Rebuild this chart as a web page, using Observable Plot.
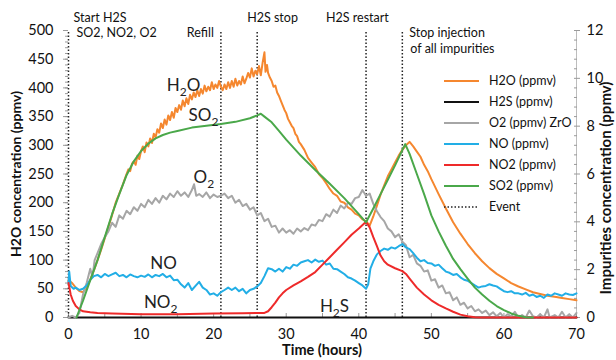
<!DOCTYPE html>
<html><head><meta charset="utf-8">
<script src="https://cdn.jsdelivr.net/npm/d3@7"></script>
<script src="https://cdn.jsdelivr.net/npm/@observablehq/plot@0.6"></script>
<style>body{margin:0;background:#fff;} #chart{width:616px;height:360px;}</style>
</head><body><div id="chart"></div>
<script>
// ---- data: [time (h), value] ----
// H2O on left axis (ppmv)
const h2o = [[0,65],[0.5,60],[1,52],[1.5,46],[2,44],[2.5,52],[3,66],[3.5,82],[4,100],[4.5,118],[5,138],[5.5,158],[6,178],[6.5,200],[7,216],[7.5,232],[8,250],[8.25,258],[8.5,255],[8.75,268],[9,272],[9.25,266],[9.5,282],[9.75,276],[10,290],[10.25,298],[10.5,288],[10.75,305],[11,298],[11.25,312],[11.5,304],[11.75,320],[12,314],[12.25,328],[12.5,322],[12.75,338],[13,330],[13.25,345],[13.5,336],[13.75,352],[14,344],[14.25,358],[14.5,348],[14.75,365],[15,358],[15.25,370],[15.5,362],[15.75,378],[16,368],[16.25,382],[16.5,372],[16.75,388],[17,380],[17.25,392],[17.5,384],[17.75,396],[18,386],[18.25,398],[18.5,390],[18.75,404],[19,394],[19.25,402],[19.5,396],[19.75,410],[20,398],[20.25,406],[20.5,400],[20.75,412],[21,402],[21.25,396],[21.5,406],[21.75,398],[22,410],[22.25,400],[22.5,412],[22.75,402],[23,416],[23.25,404],[23.5,412],[23.75,406],[24,420],[24.25,408],[24.5,416],[24.75,426],[25,418],[25.25,434],[25.5,420],[25.75,430],[26,424],[26.25,438],[26.5,422],[26.75,444],[27,462],[27.15,428],[27.35,440],[27.5,426],[27.75,418],[28,412],[28.25,402],[28.5,404],[28.75,392],[29,386],[29.25,378],[29.5,370],[29.75,362],[30,356],[30.25,346],[30.5,340],[30.75,334],[31,330],[31.25,320],[31.5,316],[31.75,306],[32,302],[32.5,292],[33,278],[33.5,270],[34,262],[34.5,250],[35,243],[35.5,234],[36,224],[36.5,216],[37,212],[37.5,202],[38,200],[38.5,192],[39,188],[39.5,181],[40,178],[40.5,171],[41,168],[41.5,160],[42,176],[42.5,195],[43,214],[43.5,230],[44,246],[44.5,258],[45,270],[45.5,282],[46,292],[46.5,300],[47,306],[47.5,298],[48,289],[48.5,280],[49,266],[49.5,255],[50,241],[51,215],[52,190],[53,166],[54,146],[55,128],[56,112],[57,98],[58,86],[59,76],[60,68],[61,60],[62,54],[63,49],[64,44],[65,41],[66,38],[67,36],[68,34],[69,32],[70,30]];
// impurities on right axis (ppmv)
const h2s = [[0,0],[70,0]];
const o2 = [[0,0],[0.5,0.07],[1,0],[1.5,0.19],[2,0.96],[2.5,1.44],[3,2.04],[3.3,1.68],[3.6,2.4],[4,2.69],[4.5,3.07],[5,3.36],[5.5,3.6],[6,3.96],[6.5,3.79],[7,4.27],[7.5,4.13],[8,4.46],[8.5,4.32],[9,4.61],[9.5,4.46],[10,4.75],[10.5,4.61],[11,4.92],[11.5,4.75],[12,4.99],[12.5,4.8],[13,5.09],[13.5,4.94],[14,5.18],[14.5,5.04],[15,5.28],[15.5,5.09],[16,5.23],[16.5,5.04],[17,5.33],[17.3,5.57],[17.6,5.09],[18,5.16],[18.5,5.04],[19,5.23],[19.5,4.99],[20,5.14],[20.5,5.04],[21,5.09],[21.5,5.18],[22,4.99],[22.5,5.09],[23,4.8],[23.5,4.92],[24,4.66],[24.5,4.75],[25,4.51],[25.5,4.61],[26,4.27],[26.5,4.37],[27,4.03],[27.5,4.13],[28,3.79],[28.5,3.84],[29,3.55],[29.5,3.72],[30,3.55],[30.5,3.65],[31,3.5],[31.5,3.72],[32,3.6],[32.5,3.74],[33,3.65],[33.5,3.89],[34,3.84],[34.5,4.08],[35,4.03],[35.5,4.32],[36,4.22],[36.5,4.51],[37,4.37],[37.5,4.68],[38,4.56],[38.5,4.8],[39,4.75],[39.5,4.99],[40,5.04],[40.5,5.33],[41,5.09],[41.5,5.18],[42,4.75],[42.5,4.44],[43,4.2],[43.5,4.03],[44,3.72],[44.5,3.6],[45,3.36],[45.5,3.48],[46,3.17],[46.5,3.02],[47,2.52],[47.5,2.62],[48,2.26],[48.5,2.16],[49,1.92],[49.5,1.97],[50,1.54],[50.5,1.6],[51,1.25],[51.5,1.34],[52,1.01],[52.5,1.06],[53,0.72],[53.5,0.84],[54,0.53],[54.5,0.62],[55,0.38],[55.5,0.48],[56,0.26],[56.5,0.34],[57,0.19],[57.5,0.29],[58,0.1],[58.5,0.22],[59,0.05],[59.5,0.19],[60,0],[60.5,0.14],[61,0.05],[61.5,0.24],[62,0],[62.5,0.1],[63,0],[63.5,0.29],[64,0.05],[64.5,0],[65,0.14],[65.5,0],[66,0.34],[66.3,0],[67,0.1],[67.5,0],[68,0.24],[68.5,0],[69,0.14],[69.5,0],[70,0.19]];
const no = [[0,1.44],[0.1,1.92],[0.3,1.32],[0.7,1.2],[1,1.25],[1.5,1.15],[2,1.2],[2.5,1.34],[3,1.58],[3.5,1.73],[4,1.78],[4.5,1.68],[5,1.82],[5.5,1.73],[6,1.8],[6.5,1.87],[7,1.73],[7.5,1.78],[8,1.68],[8.5,1.8],[9,1.73],[9.5,1.68],[10,1.75],[10.5,1.7],[11,1.8],[11.5,1.68],[12,1.78],[12.5,1.73],[13,1.82],[13.5,1.68],[14,1.75],[14.5,1.56],[15,1.58],[15.5,1.39],[16,1.25],[16.5,1.44],[17,1.15],[17.5,1.32],[18,1.49],[18.5,1.25],[19,1.15],[19.5,0.96],[20,1.01],[20.5,0.91],[21,1.06],[21.5,1.15],[22,1.25],[22.5,1.15],[23,1.25],[23.5,1.1],[24,1.2],[24.5,1.01],[25,1.15],[25.5,1.2],[26,1.3],[26.5,1.44],[27,1.73],[27.5,2.06],[28,2.02],[28.5,1.92],[29,2.04],[29.5,1.92],[30,2.11],[30.5,2.04],[31,2.21],[31.5,2.16],[32,2.3],[32.5,2.35],[33,2.4],[33.5,2.3],[34,2.42],[34.5,2.33],[35,2.38],[35.5,2.21],[36,2.26],[36.5,2.04],[37,2.02],[37.5,1.92],[38,1.82],[38.5,1.68],[39,1.63],[39.5,1.54],[40,1.44],[40.5,1.34],[41,1.2],[41.3,1.39],[41.6,2.04],[42,2.35],[42.5,2.64],[43,2.78],[43.5,2.88],[44,2.83],[44.5,2.93],[45,2.88],[45.5,2.98],[46,3.07],[46.5,2.93],[47,2.86],[47.5,2.69],[48,2.5],[48.5,2.35],[49,2.4],[49.5,2.28],[50,2.26],[50.5,2.16],[51,2.21],[51.5,2.06],[52,1.92],[52.5,1.87],[53,1.78],[53.5,1.82],[54,1.68],[54.5,1.58],[55,1.54],[55.5,1.44],[56,1.34],[56.5,1.25],[57,1.3],[57.5,1.32],[58,1.39],[58.5,1.34],[59,1.3],[59.5,1.2],[60,1.1],[60.5,1.06],[61,1.1],[61.5,1.01],[62,1.01],[62.5,0.96],[63,1.03],[63.5,0.91],[64,0.96],[64.5,0.86],[65,0.91],[65.5,0.82],[66,0.96],[66.5,0.91],[67,1.01],[67.5,0.96],[68,0.91],[68.5,1.01],[69,0.96],[69.5,0.94],[70,1.01]];
const no2 = [[0,1.44],[0.3,0.96],[0.6,0.7],[1,0.48],[1.5,0.34],[2,0.26],[3,0.22],[4,0.19],[6,0.17],[10,0.14],[15,0.14],[20,0.17],[24,0.18],[26,0.19],[27,0.19],[27.5,0.26],[28,0.43],[28.5,0.62],[29,0.84],[29.5,1.01],[30,1.15],[31,1.34],[32,1.51],[33,1.7],[34,1.9],[35,2.21],[36,2.52],[37,2.83],[38,3.14],[39,3.46],[40,3.72],[41,4.0],[41.5,3.77],[42,3.36],[42.5,2.98],[43,2.59],[43.5,2.35],[44,2.21],[45,2.06],[46,1.94],[46.5,1.82],[47,1.63],[47.5,1.44],[48,1.25],[49,0.96],[50,0.72],[51,0.53],[52,0.38],[53,0.24],[54,0.12],[55,0.05],[56,0.01],[57,0],[70,0]];
const so2 = [[1.1,0],[2,0.7],[3,1.56],[4,2.4],[5,3.36],[6,4.32],[7,5.16],[8,5.95],[9,6.53],[10,6.96],[11,7.27],[12,7.49],[13,7.63],[14,7.73],[15,7.8],[17,7.94],[19,8.02],[21,8.09],[23,8.18],[25,8.33],[26,8.45],[26.5,8.52],[27,8.4],[28,8.16],[29,7.8],[30,7.44],[32,6.77],[34,6.17],[36,5.59],[38,4.99],[40,4.32],[41,3.98],[42,4.56],[43,5.16],[44,5.76],[45,6.36],[46,7.0],[46.4,7.25],[47,6.84],[48,6.0],[49,5.16],[50,4.27],[51,3.6],[52,3.0],[53,2.45],[54,2.02],[55,1.63],[56,1.25],[57,0.96],[58,0.7],[59,0.48],[60,0.31],[61,0.17],[62,0.07],[63,0.01],[64,0]];

const seriesNames = ["H2O (ppmv)","H2S (ppmv)","O2 (ppmv) ZrO","NO (ppmv)","NO2 (ppmv)","SO2 (ppmv)"];
const seriesColors = ["#f5872f","#111111","#a6a6a6","#22aee6","#ee2a2a","#4aa84a"];
const seriesData = [h2o, h2s, o2, no, no2, so2];
const seriesAxis = ["left","right","right","right","right","right"];

const eventTimes = [0, 21, 26, 41, 46];
const eventNotes = ["Start H2S","SO2, NO2, O2","Refill","H2S stop","H2S restart","Stop injection","of all impurities"];
const curveLabels = ["H₂O","SO₂","O₂","NO","NO₂","H₂S"];
const axisTitles = ["H2O concentration (ppmv)", "Impurities concentration (ppmv)", "Time (hours)"];

const leftTicks = d3.range(0, 501, 50);
const rightTicks = d3.range(0, 13, 2);
const xTicks = d3.range(0, 71, 10);

// ---- drawing ----
const K = 500 / 12; // right-axis ppmv -> left-axis units
const font = "Lato, 'Open Sans', sans-serif";

const lineMarks = seriesData.map((data, i) => Plot.line(data, {
  x: d => d[0],
  y: d => seriesAxis[i] === "right" ? d[1] * K : d[1],
  stroke: seriesColors[i], strokeWidth: 2, strokeLinejoin: "round"
}));

// label anchors (time, left-axis units)
const labelPos = [[15.85,404],[18.6,352],[18.65,244],[13.1,94.5],[12.7,26.5],[36.65,19]];
const labelMarks = curveLabels.map((txt, i) => Plot.text([txt], {
  x: () => labelPos[i][0], y: () => labelPos[i][1], text: d => d,
  fontSize: 17, fill: "#222", textAnchor: "middle", lineAnchor: "middle"
}));

const noteLayout = [
  {t: 0, dx: 5, dy: -13, anchor: "start"},
  {t: 0, dx: 8, dy: 2, anchor: "start"},
  {t: 21, dx: -7, dy: 2, anchor: "end"},
  {t: 26, dx: -10, dy: -13, anchor: "start"},
  {t: 41, dx: -40, dy: -13, anchor: "start"},
  {t: 46, dx: 7, dy: 2, anchor: "start"},
  {t: 46, dx: 8, dy: 18, anchor: "start"}
];
const noteMarks = eventNotes.map((txt, i) => Plot.text([txt], {
  x: () => noteLayout[i].t, frameAnchor: "top", text: d => d,
  dx: noteLayout[i].dx, dy: noteLayout[i].dy, textAnchor: noteLayout[i].anchor,
  lineAnchor: "middle", fontSize: 12.5, fill: "#111"
}));

const svg = Plot.plot({
  width: 616, height: 360,
  marginLeft: 68, marginRight: 40, marginTop: 30, marginBottom: 43,
  style: {fontFamily: font, fontSize: "14.5px", color: "#111", background: "#fff", overflow: "visible"},
  x: {domain: [0, 70]},
  y: {domain: [0, 500]},
  marks: [
    Plot.ruleY([0], {stroke: "#bdbdbd"}),
    Plot.ruleX([70], {stroke: "#bdbdbd"}),
    Plot.axisX({ticks: xTicks, tickSize: 0, tickPadding: 11, label: null, fontSize: 14.5}),
    Plot.axisX({ticks: d3.range(0, 71, 5), tickSize: -4, tickFormat: () => "", label: null, stroke: "#9a9a9a"}),
    Plot.axisY({anchor: "left", ticks: leftTicks, tickSize: 5, tickPadding: 10, label: null, stroke: "#9a9a9a", fontSize: 14.5}),
    Plot.axisY({anchor: "left", ticks: d3.range(0, 501, 10), tickSize: 3, tickFormat: () => "", label: null, stroke: "#9a9a9a"}),
    Plot.axisY({anchor: "right", ticks: rightTicks.map(v => v * K), tickFormat: d => String(Math.round(d / K)), tickSize: 3, tickPadding: 7, label: null, stroke: "#9a9a9a", fontSize: 14.5}),
    Plot.axisY({anchor: "right", ticks: d3.range(0, 12.01, 0.4).map(v => v * K), tickSize: -3, tickFormat: () => "", label: null, stroke: "#9a9a9a"}),
    Plot.ruleX(eventTimes, {y1: 0, y2: 500, stroke: "#222", strokeWidth: 1.5, strokeDasharray: "1.5,2"}),
    ...lineMarks,
    ...labelMarks,
    ...noteMarks
  ]
});

const root = d3.select(svg);

// subscripts for curve labels
root.selectAll("text").each(function() {
  const t = this.textContent;
  if (!t.includes("₂")) return;
  const parts = t.split("₂");
  const sel = d3.select(this);
  sel.text(null);
  sel.append("tspan").text(parts[0]);
  sel.append("tspan").attr("dy", 5).attr("font-size", 12).text("2");
  if (parts[1]) sel.append("tspan").attr("dy", -5).text(parts[1]);
});

// axis titles
const tg = root.append("g").attr("font-family", font).attr("font-weight", "bold").attr("fill", "#111").attr("text-anchor", "middle");
tg.append("text").attr("transform", "translate(16,174) rotate(-90)").attr("dy", "0.35em").attr("font-size", 14).text(axisTitles[0]);
tg.append("text").attr("transform", "translate(606,188) rotate(-90)").attr("dy", "0.35em").attr("font-size", 15).text(axisTitles[1]);
tg.append("text").attr("transform", "translate(322,350)").attr("dy", "0.35em").attr("font-size", 14.5).text(axisTitles[2]);

// legend inside the plot
const lg = root.append("g").attr("font-family", font).attr("font-size", 12.5).attr("fill", "#111").attr("text-anchor", "start");
const legendItems = seriesNames.map((n, i) => ({name: n, color: seriesColors[i], dash: null}))
  .concat([{name: "Event", color: "#222", dash: "1.5,2"}]);
legendItems.forEach((it, i) => {
  const y = 81 + i * 21;
  lg.append("line").attr("x1", 444).attr("x2", 479).attr("y1", y).attr("y2", y)
    .attr("stroke", it.color).attr("stroke-width", it.dash ? 1.5 : 2).attr("stroke-dasharray", it.dash);
  lg.append("text").attr("x", 489).attr("y", y).attr("dy", "0.35em").text(it.name);
});

document.getElementById("chart").appendChild(svg);
</script>
</body></html>
